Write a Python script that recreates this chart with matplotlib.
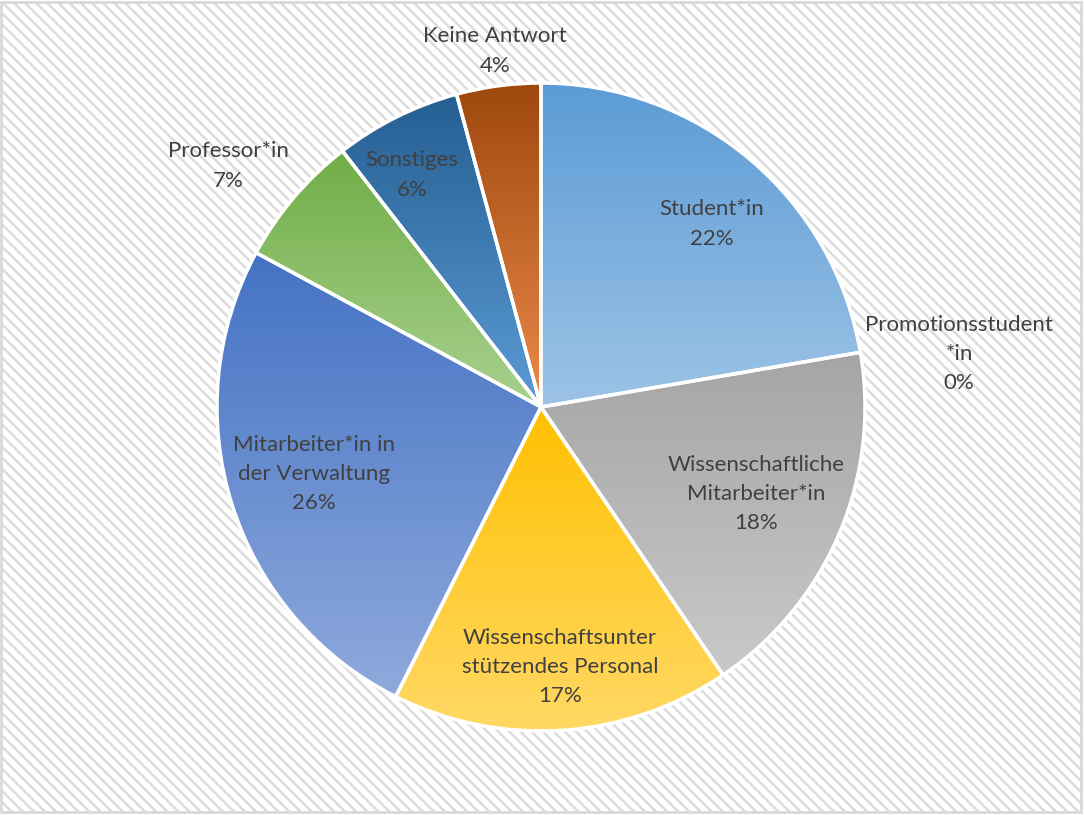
import numpy as np
import matplotlib.pyplot as plt
from matplotlib.colors import to_rgb
from matplotlib.patches import Rectangle

categories = ["Student*in", "Promotionsstudent\n*in", "Wissenschaftliche\nMitarbeiter*in",
              "Wissenschaftsunter\nstützendes Personal", "Mitarbeiter*in in\nder Verwaltung",
              "Professor*in", "Sonstiges", "Keine Antwort"]
shares = [22.3, 0.0, 18.2, 16.9, 25.5, 6.6, 6.3, 4.2]

# gradient colours: top -> bottom of each slice
top_colors = ["#5B9BD5", "#ED7D31", "#A5A5A5", "#FFC000", "#4472C4", "#70AD47", "#255E91", "#9E480E"]
bottom_colors = ["#9DC3E6", "#F4B183", "#C9C9C9", "#FFD966", "#8FAADC", "#A9D18E", "#5B9BD5", "#EC8A4A"]

# label centres in pixels (x, y from top)
label_pos = [(712, 224), (959, 354), (756, 494), (560, 667), (314, 474),
             (228, 166), (412, 175), (495, 51)]
label_colors = ["#404040"] * 8

W, H = 1084, 815
fig = plt.figure(figsize=(W / 100, H / 100), dpi=100)
ax = fig.add_axes([0, 0, 1, 1])
plt.rcParams['hatch.linewidth'] = 1.8

# hatched chart area background + border
ax.add_patch(Rectangle((1, 3), 1080, 810, facecolor='white', edgecolor='#DCDCDC',
                       hatch='\\\\\\', linewidth=0, zorder=0))
ax.add_patch(Rectangle((1, 3), 1080, 810, fill=False, edgecolor='#D9D9D9',
                       linewidth=2, zorder=5))

wedges, _ = ax.pie(shares, colors=top_colors, startangle=90, counterclock=False,
                   center=(541, H - 407), radius=324, frame=True,
                   wedgeprops=dict(edgecolor='white', linewidth=2.5))

for w, v, c0, c1 in zip(wedges, shares, top_colors, bottom_colors):
    if v <= 0:
        continue
    verts = w.get_path().vertices
    x0, y0 = verts.min(axis=0)
    x1, y1 = verts.max(axis=0)
    t = np.linspace(0, 1, 256)[:, None]
    grad = (1 - t) * np.array(to_rgb(c0)) + t * np.array(to_rgb(c1))
    im = ax.imshow(grad[:, None, :], extent=(x0, x1, y0, y1), origin='upper',
                   aspect='auto', zorder=1, interpolation='bilinear')
    im.set_clip_path(w)
    w.set_facecolor('none')
    w.set_zorder(2)

for name, v, (px, py), tc in zip(categories, shares, label_pos, label_colors):
    ax.text(px, H - py, f"{name}\n{round(v)}%", ha='center', va='center',
            fontsize=16, color=tc, family='Lato', linespacing=1.58, zorder=6)

ax.set_xlim(0, W)
ax.set_ylim(0, H)
ax.set_aspect('equal')
ax.axis('off')
fig.savefig('out.png', dpi=100)
